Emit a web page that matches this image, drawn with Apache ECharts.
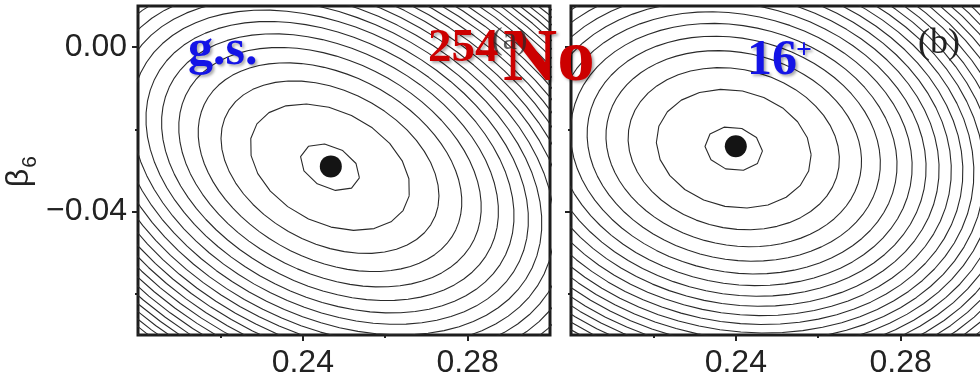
<!DOCTYPE html>
<html><head><meta charset="utf-8">
<script src="https://cdn.jsdelivr.net/npm/echarts@6/dist/echarts.min.js"></script>
<style>html,body{margin:0;padding:0;background:#fff}#c{width:980px;height:383px}</style>
</head><body><div id="c"></div>
<script>
// ---- data ----
const beta2Range = [0.20, 0.30];
const beta6Range = [-0.07, 0.01];
const beta2Labels = [0.24, 0.28];
const beta2Minor = [0.22, 0.26];
const beta6Labels = [0.00, -0.04];
const beta6Minor = [-0.02, -0.06];
const minimumBeta2 = [0.2468, 0.2400];
const minimumBeta6 = [-0.0290, -0.0241];
const contourCenterBeta2 = [0.2466, 0.2395];
const contourCenterBeta6 = [-0.0292, -0.0247];
const unitAxisMajor = [0.0192, 0.01765];
const unitAxisMinor = [0.01262, 0.01315];
const tiltDeg = [-27.5, -13];
const energyLevels = [0.16, 1.16, 2.16, 3.16, 4.16, 5.16, 6.16, 7.16, 8.16, 9.16,
  10.16, 11.16, 12.16, 13.16, 14.16, 15.16, 16.16, 17.16, 18.16, 19.16,
  20.16, 21.16, 22.16, 23.16, 24.16, 25.16, 26.16, 27.16, 28.16, 29.16];
const ringSegments = [10, 22, 48, 72];

function contour(p, k) {
  const L = energyLevels[k];
  const n = ringSegments[Math.min(k, ringSegments.length - 1)];
  const a = unitAxisMajor[p] * Math.sqrt(L), b = unitAxisMinor[p] * Math.sqrt(L);
  const phi = tiltDeg[p] * Math.PI / 180;
  const cx = contourCenterBeta2[p], cy = contourCenterBeta6[p];
  const pts = [];
  for (let i = 0; i <= n; i++) {
    const t = 2 * Math.PI * i / n + 0.2;
    const u = a * Math.cos(t), v = b * Math.sin(t);
    pts.push([cx + u * Math.cos(phi) - v * Math.sin(phi), cy + u * Math.sin(phi) + v * Math.cos(phi)]);
  }
  return pts;
}

const FONT = 'Liberation Sans, Arial, sans-serif';
const INK = '#222';
const gridRects = [
  {left: 138, top: 6, width: 412, height: 329},
  {left: 571, top: 6, width: 412, height: 329}
];
const grids = [], xAxes = [], yAxes = [], series = [];
const fmtY = v => (v < 0 ? '\u2212' : '') + Math.abs(v).toFixed(2);
for (let p = 0; p < 2; p++) {
  grids.push(Object.assign({show: true, borderColor: '#1d1d1d', borderWidth: 3, containLabel: false, outerBoundsMode: 'none'}, gridRects[p]));
}
for (let p = 0; p < 2; p++) {
  grids.push(Object.assign({show: false, containLabel: false, outerBoundsMode: 'none'}, gridRects[p]));
}
for (let g = 0; g < 4; g++) {
  const major = g < 2;
  const p = g % 2;
  xAxes.push({
    gridIndex: g, type: 'value', min: beta2Range[0], max: beta2Range[1], position: 'bottom',
    axisLine: {show: false, onZero: false}, splitLine: {show: false},
    axisTick: {show: true, inside: false, customValues: major ? beta2Labels : beta2Minor, length: major ? 6 : 3, lineStyle: {color: INK, width: 2}},
    axisLabel: {show: major, customValues: beta2Labels, formatter: v => v.toFixed(2), fontSize: 32, fontFamily: FONT, color: INK, margin: 12}
  });
  yAxes.push({
    gridIndex: g, type: 'value', min: beta6Range[0], max: beta6Range[1], position: 'left',
    axisLine: {show: false, onZero: false}, splitLine: {show: false},
    axisTick: {show: true, inside: false, customValues: major ? beta6Labels : beta6Minor, length: major ? 6 : 3, lineStyle: {color: INK, width: 2}},
    axisLabel: {show: major && p === 0, customValues: beta6Labels, formatter: fmtY, fontSize: 32, fontFamily: FONT, color: INK, margin: 11}
  });
}
for (let p = 0; p < 2; p++) {
  for (let k = 0; k < energyLevels.length; k++) {
    series.push({
      type: 'line', xAxisIndex: p, yAxisIndex: p, data: contour(p, k),
      symbol: 'none', silent: true, clip: true, smooth: false,
      lineStyle: {color: '#2a2a2a', width: 1.1}, z: 2
    });
  }
  series.push({
    type: 'scatter', xAxisIndex: p, yAxisIndex: p,
    data: [[minimumBeta2[p], minimumBeta6[p]]],
    symbol: 'circle', symbolSize: 22, itemStyle: {color: '#141414', opacity: 1}, z: 5, silent: true
  });
}

const shadow = {textShadowColor: 'rgba(0,0,0,0.35)', textShadowBlur: 3, textShadowOffsetX: 2, textShadowOffsetY: 2};
function txt(text, x, y, font, fill, extra, z) {
  return {type: 'text', x: x, y: y, z: z || 100, silent: true,
    style: Object.assign({text: text, font: font, fill: fill, align: 'left', verticalAlign: 'middle'}, extra || {})};
}
const graphic = [
  txt('g.s.', 188, 51, 'bold 50px "Liberation Serif"', '#1414e6', shadow),
  txt('254', 428, 49, 'bold 47px "Liberation Serif"', '#cc0000', shadow),
  txt('No', 503, 61, 'bold 75px "Liberation Serif"', '#cc0000', shadow),
  txt('(a)', 492, 41, '32px "Liberation Serif"', 'rgba(40,40,40,0.75)', null, 110),
  txt('16', 747, 61, 'bold 50px "Liberation Serif"', '#1414e6', shadow),
  txt('+', 804, 51, 'bold 28px "Liberation Serif"', '#1414e6', Object.assign({align: 'center'}, shadow)),
  txt('(b)', 918, 44, '36px "Liberation Serif"', '#222'),
  {type: 'text', x: 19, y: 178, rotation: Math.PI / 2, z: 100, silent: true,
    style: {text: '\u03b2', font: '32px ' + FONT, fill: INK, align: 'center', verticalAlign: 'middle'}},
  {type: 'text', x: 30, y: 162, rotation: Math.PI / 2, z: 100, silent: true,
    style: {text: '6', font: '21px ' + FONT, fill: INK, align: 'center', verticalAlign: 'middle'}}
];

const chart = echarts.init(document.getElementById('c'), null, {renderer: 'canvas'});
chart.setOption({
  animation: false,
  backgroundColor: '#fff',
  grid: grids, xAxis: xAxes, yAxis: yAxes, series: series, graphic: graphic
});
</script></body></html>
